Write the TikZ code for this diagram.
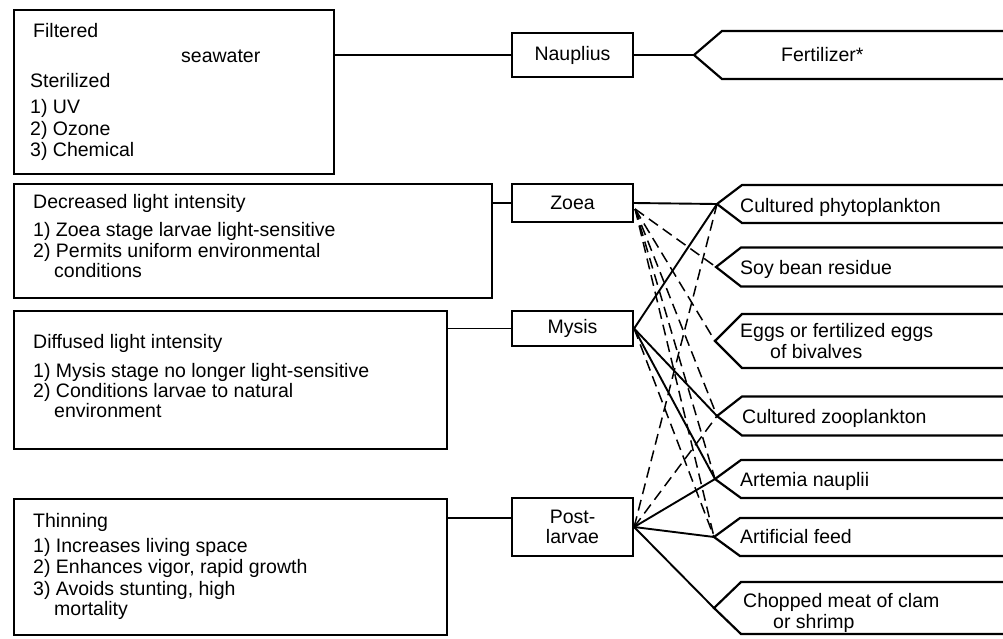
\documentclass[tikz,border=0pt]{standalone}
\usepackage{fontspec}
\setmainfont{Liberation Sans}
\usetikzlibrary{calc}
\newcommand\fs{\fontsize{19.5}{20.5}\selectfont}
\newcommand\foodshape[5]{%
  \coordinate (#1) at (#2,#3);
  \draw[food] (1003,#3-#4) -- (#5,#3-#4) -- (#1) -- (#5,#3+#4) -- (1003,#3+#4);
}
\tikzset{
  lbox/.style={draw, line width=2.2pt, inner sep=0pt, anchor=north west},
  txt/.style={anchor=base west, inner sep=0pt, font=\fs},
  stagebox/.style={draw, line width=2.2pt, minimum width=121pt, inner sep=0pt, align=center, font=\fs},
  food/.style={line width=2.2pt},
  link/.style={line width=1.9pt},
  opt/.style={line width=1.5pt, dash pattern=on 11pt off 6pt}
}
\begin{document}
\begin{tikzpicture}[x=1pt,y=-1pt]
\useasboundingbox (0,0) rectangle (1003,638);
\fill[white] (0,0) rectangle (1003,638);

% left boxes
\node[lbox, minimum width=320pt, minimum height=164pt] (b1) at (13,9) {};
\node[lbox, minimum width=478pt, minimum height=114pt] (b2) at (13,183) {};
\node[lbox, minimum width=433pt, minimum height=138pt] (b3) at (13,310) {};
\node[lbox, minimum width=433pt, minimum height=136pt] (b4) at (13,498) {};

% box texts
\node[txt] (t1a) at (33,37) {Filtered};
\node[txt] (t1b) at (181,62) {seawater};
\node[txt] (t1c) at (30,87) {Sterilized};
\node[txt] (t1d) at (30,113) {1) UV};
\node[txt] (t1e) at (30,135) {2) Ozone};
\node[txt] (t1f) at (30,156) {3) Chemical};

\node[txt] (t2a) at (33,208) {Decreased light intensity};
\node[txt] (t2b) at (33,236) {1) Zoea stage larvae light-sensitive};
\node[txt] (t2c) at (33,257) {2) Permits uniform environmental};
\node[txt] (t2d) at (54,277) {conditions};

\node[txt] (t3a) at (33,348) {Diffused light intensity};
\node[txt] (t3b) at (33,377) {1) Mysis stage no longer light-sensitive};
\node[txt] (t3c) at (33,397) {2) Conditions larvae to natural};
\node[txt] (t3d) at (54,417) {environment};

\node[txt] (t4a) at (33,527) {Thinning};
\node[txt] (t4b) at (33,552) {1) Increases living space};
\node[txt] (t4c) at (33,573) {2) Enhances vigor, rapid growth};
\node[txt] (t4d) at (33,595) {3) Avoids stunting, high};
\node[txt] (t4e) at (54,615) {mortality};

% stage boxes
\node[stagebox, minimum height=44pt] (naup) at (572.5,55) {Nauplius};
\node[stagebox, minimum height=38pt] (zoea) at (572.5,203) {Zoea};
\node[stagebox, minimum height=35pt] (mysis) at (572.5,328.5) {Mysis};
\node[stagebox, minimum height=58pt] (post) at (572.5,527) {Post-\\larvae};

% food shapes
\foodshape{fert}{694}{55}{24}{722}
\foodshape{phyto}{717}{204}{19}{742}
\foodshape{soy}{716}{267}{19.5}{741}
\foodshape{eggs}{715}{341}{27}{742}
\foodshape{zoo}{717}{416}{19.5}{742}
\foodshape{art}{715}{479}{19}{741}
\foodshape{feed}{714}{537}{19}{740}
\foodshape{meat}{714}{608}{26}{741}

% food texts
\node[txt] (ft0) at (781,61) {Fertilizer*};
\node[txt] (ft1) at (740,212) {Cultured phytoplankton};
\node[txt] (ft2) at (740,274) {Soy bean residue};
\node[txt] (ft3a) at (740,337) {Eggs or fertilized eggs};
\node[txt] (ft3b) at (770,358) {of bivalves};
\node[txt] (ft4) at (742,423) {Cultured zooplankton};
\node[txt] (ft5) at (740,486) {Artemia nauplii};
\node[txt] (ft6) at (740,543) {Artificial feed};
\node[txt] (ft7a) at (743,607) {Chopped meat of clam};
\node[txt] (ft7b) at (773,628) {or shrimp};

% box-to-stage connectors
\draw[link] (naup.west) -- (naup.west -| b1.east);
\draw[link] (zoea.west) -- (zoea.west -| b2.east);
\draw[link] (mysis.west) -- (mysis.west -| b3.east);
\draw[link] ($(post.west)+(0,-9)$) -- ($(post.west -| b4.east)+(0,-9)$);
\draw[link] (naup.east) -- (fert);

% solid feeding connectors
\draw[link] (zoea.east) -- (phyto);
\draw[link] (mysis.east) -- (phyto);
\draw[link] (mysis.east) -- (zoo);
\draw[link] (mysis.east) -- (art);
\draw[link] (post.east) -- (art);
\draw[link] (post.east) -- (feed);
\draw[link] (post.east) -- (meat);

% dashed feeding connectors
\coordinate (zf) at ($(zoea.east)+(1,6)$);
\draw[opt] (zf) -- (soy);
\draw[opt] (zf) -- (eggs);
\draw[opt] (zf) -- (zoo);
\draw[opt] (zf) -- (art);
\draw[opt] (zf) -- (feed);
\draw[opt] (mysis.east) -- (feed);
\draw[opt] (post.east) -- (phyto);
\draw[opt] (post.east) -- (zoo);
\end{tikzpicture}
\end{document}
